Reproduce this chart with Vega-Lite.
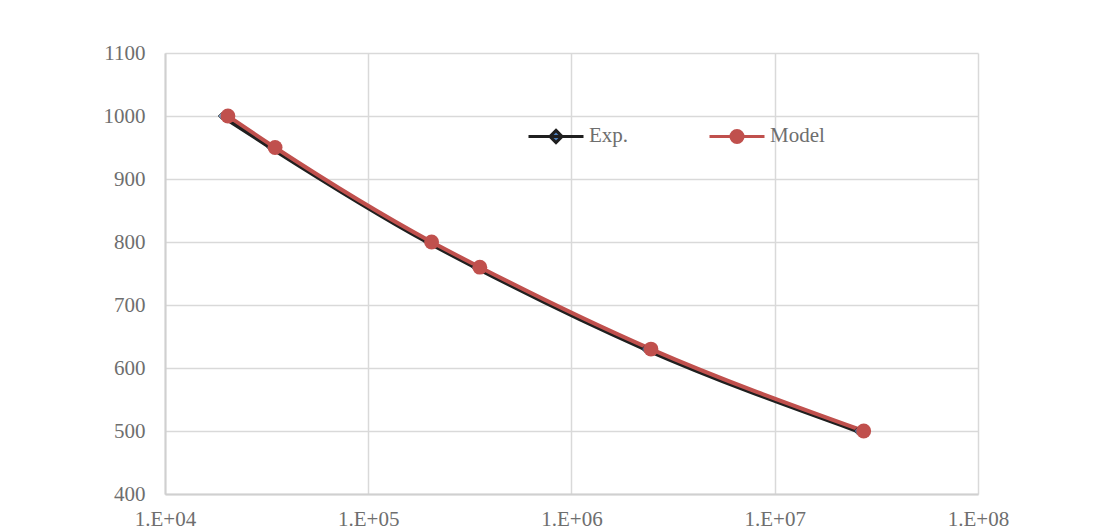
{
  "$schema": "https://vega.github.io/schema/vega-lite/v6.json",
  "width": 813,
  "height": 441,
  "autosize": "none",
  "padding": {"left": 165, "top": 53, "right": 118, "bottom": 37},
  "background": "white",
  "config": {
    "view": {"stroke": null},
    "font": "Liberation Serif",
    "axis": {"labelFont": "Liberation Serif", "labelFontSize": 21, "labelColor": "#6e6e6e", "gridColor": "#d9d9d9", "gridWidth": 1.5, "domainColor": "#d0d0d0", "domainWidth": 2, "ticks": false, "title": null},
    "legend": {"labelFont": "Liberation Serif", "labelFontSize": 21, "labelColor": "#6e6e6e"}
  },
  "data": {
    "values": [
      {"series": "Exp.", "x": 19000, "y": 1000},
      {"series": "Exp.", "x": 33000, "y": 950},
      {"series": "Exp.", "x": 195000, "y": 800},
      {"series": "Exp.", "x": 335000, "y": 760},
      {"series": "Exp.", "x": 2300000, "y": 630},
      {"series": "Exp.", "x": 25500000, "y": 500},
      {"series": "Model", "x": 20400, "y": 1000},
      {"series": "Model", "x": 34800, "y": 950},
      {"series": "Model", "x": 205000, "y": 800},
      {"series": "Model", "x": 354000, "y": 760},
      {"series": "Model", "x": 2460000, "y": 630},
      {"series": "Model", "x": 27400000, "y": 500}
    ]
  },
  "encoding": {
    "x": {"field": "x", "type": "quantitative", "scale": {"type": "log", "domain": [10000, 100000000], "nice": false},
      "axis": {"values": [10000, 100000, 1000000, 10000000, 100000000], "labelExpr": "'1.E+0' + round(log(datum.value)/LN10)", "labelPadding": 14, "labelFlush": false}},
    "y": {"field": "y", "type": "quantitative", "scale": {"domain": [400, 1100], "nice": false, "zero": false},
      "axis": {"values": [400, 500, 600, 700, 800, 900, 1000, 1100], "format": "d", "labelPadding": 20}}
  },
  "layer": [
    {
      "mark": {"type": "line", "strokeWidth": 4, "interpolate": "monotone"},
      "encoding": {
        "color": {"field": "series", "type": "nominal",
          "scale": {"domain": ["Exp.", "Model"], "range": ["#1f1f1f", "#c0504d"]},
          "legend": {
            "title": null, "orient": "none", "legendX": 362, "legendY": 54, "direction": "horizontal",
            "columns": 2, "columnPadding": 74, "labelOffset": 4, "symbolSize": 3025, "symbolStrokeWidth": 4,
            "encode": {"symbols": {"update": {
              "shape": {"signal": "datum.value === 'Exp.' ? 'M-1,0L1,0M0,-0.22L0.22,0L0,0.22L-0.22,0Z' : 'M-1,0L1,0M0.22,0A0.22,0.22,0,1,1,-0.22,0A0.22,0.22,0,1,1,0.22,0Z'"},
              "fill": {"signal": "datum.value === 'Exp.' ? '#4f81bd' : '#c0504d'"},
              "stroke": {"signal": "datum.value === 'Exp.' ? '#1f1f1f' : '#c0504d'"},
              "strokeWidth": {"value": 3},
              "size": {"value": 3025}
            }}}
          }},
        "detail": {"field": "series"}
      }
    },
    {
      "transform": [{"filter": "datum.series === 'Exp.'"}],
      "mark": {"type": "point", "shape": "diamond", "filled": true, "fill": "#4f81bd", "stroke": "#1f1f1f", "strokeWidth": 1, "size": 50}
    },
    {
      "transform": [{"filter": "datum.series === 'Model'"}],
      "mark": {"type": "point", "shape": "circle", "filled": true, "fill": "#c0504d", "opacity": 1, "size": 220}
    }
  ]
}
